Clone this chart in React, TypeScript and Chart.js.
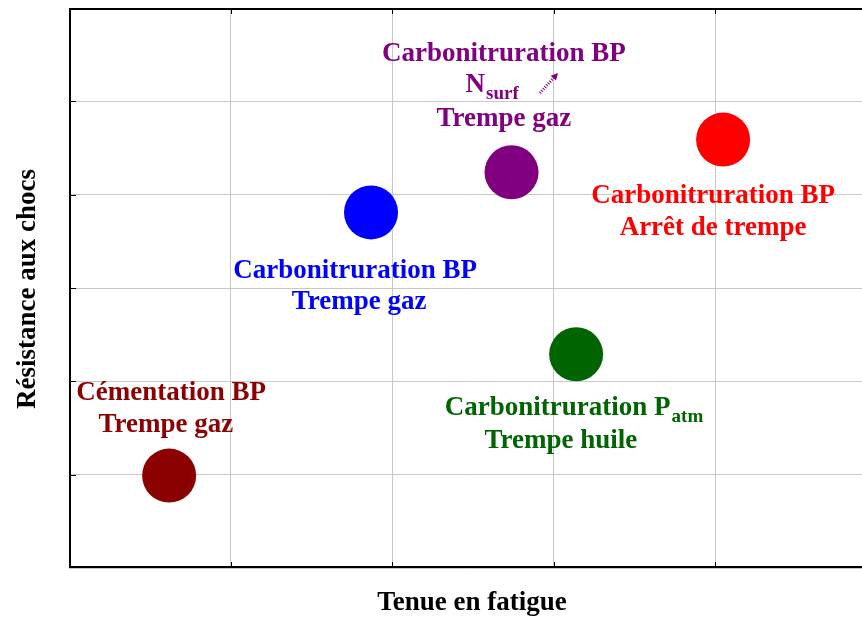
import React, { useEffect, useRef } from "react";
import { Chart, registerables } from "chart.js";

Chart.register(...registerables);

// ---- Data ----
const processes = [
  "Cémentation BP / Trempe gaz",
  "Carbonitruration BP / Trempe gaz",
  "Carbonitruration BP Nsurf / Trempe gaz",
  "Carbonitruration Patm / Trempe huile",
  "Carbonitruration BP / Arrêt de trempe",
];
const fatigue = [0.62, 1.87, 2.74, 3.14, 4.05];
const shock = [0.99, 3.81, 4.24, 2.29, 4.59];
const colors = ["#8b0000", "#0000ff", "#800080", "#006400", "#ff0000"];

const xTitle = "Tenue en fatigue";
const yTitle = "Résistance aux chocs";

// label lines: text, subscript, anchor x (centre), anchor y (baseline) in data units, color index
const labelTexts = [
  "Cémentation BP", "Trempe gaz",
  "Carbonitruration BP", "Trempe gaz",
  "Carbonitruration BP", "N", "Trempe gaz",
  "Carbonitruration P", "Trempe huile",
  "Carbonitruration BP", "Arrêt de trempe",
];
const labelSubs = ["", "", "", "", "", "surf", "", "atm", "", "", ""];
const labelX = [0.632, 0.60, 1.771, 1.796, 2.693, 2.62, 2.693, 3.127, 3.046, 3.988, 3.988];
const labelY = [1.800, 1.457, 3.107, 2.775, 5.432, 5.100, 4.735, 1.639, 1.286, 3.911, 3.568];
const labelColor = [0, 0, 1, 1, 2, 2, 2, 3, 3, 4, 4];

// small arrow near Nsurf (data coords)
const arrowFrom = [2.916, 5.089];
const arrowTo = [3.028, 5.304];

const FONT = "'Liberation Serif', 'Times New Roman', serif";

const overlay = {
  id: "overlay",
  afterDatasetsDraw(chart: any) {
    const ctx = chart.ctx;
    const xs = chart.scales.x;
    const ys = chart.scales.y;
    const area = chart.chartArea;
    ctx.save();
    // frame
    ctx.strokeStyle = "#000";
    ctx.lineWidth = 2;
    ctx.beginPath();
    ctx.moveTo(area.right + 2, area.top + 1);
    ctx.lineTo(area.left + 1, area.top + 1);
    ctx.lineTo(area.left + 1, area.bottom - 1);
    ctx.lineTo(area.right + 2, area.bottom - 1);
    ctx.stroke();
    // tick marks inward
    ctx.lineWidth = 1;
    ctx.beginPath();
    xs.ticks.forEach((t: any) => {
      const px = Math.round(xs.getPixelForValue(t.value)) + 0.5;
      if (px <= area.left + 3 || px >= area.right - 3) return;
      ctx.moveTo(px, area.bottom);
      ctx.lineTo(px, area.bottom - 6);
      ctx.moveTo(px, area.top);
      ctx.lineTo(px, area.top + 6);
    });
    ys.ticks.forEach((t: any) => {
      const py = Math.round(ys.getPixelForValue(t.value)) + 0.5;
      if (py <= area.top + 3 || py >= area.bottom - 3) return;
      ctx.moveTo(area.left, py);
      ctx.lineTo(area.left + 7, py);
    });
    ctx.stroke();

    // labels
    ctx.textBaseline = "alphabetic";
    ctx.textAlign = "left";
    labelTexts.forEach((txt, i) => {
      const sub = labelSubs[i];
      const color = colors[labelColor[i]];
      const mainFont = `bold 27px ${FONT}`;
      const subFont = `bold 19px ${FONT}`;
      ctx.font = mainFont;
      const w1 = ctx.measureText(txt).width;
      ctx.font = subFont;
      const w2 = sub ? ctx.measureText(sub).width + 1 : 0;
      const cx = xs.getPixelForValue(labelX[i]);
      const cy = ys.getPixelForValue(labelY[i]);
      const start = cx - (w1 + w2) / 2;
      ctx.fillStyle = color;
      ctx.font = mainFont;
      ctx.fillText(txt, start, cy);
      if (sub) {
        ctx.font = subFont;
        ctx.fillText(sub, start + w1 + 1, cy + 7);
      }
    });

    // arrow
    const ax1 = xs.getPixelForValue(arrowFrom[0]);
    const ay1 = ys.getPixelForValue(arrowFrom[1]);
    const ax2 = xs.getPixelForValue(arrowTo[0]);
    const ay2 = ys.getPixelForValue(arrowTo[1]);
    const ang = Math.atan2(ay2 - ay1, ax2 - ax1);
    ctx.strokeStyle = colors[2];
    ctx.fillStyle = colors[2];
    ctx.lineWidth = 3;
    ctx.setLineDash([1, 1.5]);
    ctx.beginPath();
    ctx.moveTo(ax1, ay1);
    ctx.lineTo(ax2 - 4 * Math.cos(ang), ay2 - 4 * Math.sin(ang));
    ctx.stroke();
    ctx.setLineDash([]);
    ctx.beginPath();
    ctx.moveTo(ax2, ay2);
    ctx.lineTo(ax2 - 7 * Math.cos(ang) + 3.5 * Math.sin(ang), ay2 - 7 * Math.sin(ang) - 3.5 * Math.cos(ang));
    ctx.lineTo(ax2 - 7 * Math.cos(ang) - 3.5 * Math.sin(ang), ay2 - 7 * Math.sin(ang) + 3.5 * Math.cos(ang));
    ctx.closePath();
    ctx.fill();

    // axis titles
    ctx.fillStyle = "#000";
    ctx.font = `bold 27px ${FONT}`;
    ctx.textAlign = "center";
    ctx.textBaseline = "alphabetic";
    ctx.fillText(xTitle, 472, 610);
    ctx.translate(35, 289);
    ctx.rotate(-Math.PI / 2);
    ctx.fillText(yTitle, 0, 0);
    ctx.restore();
  },
};

export default function App() {
  const ref = useRef<HTMLCanvasElement | null>(null);
  useEffect(() => {
    if (!ref.current) return;
    const chart = new Chart(ref.current, {
      type: "scatter",
      data: {
        datasets: [
          {
            label: "Procédés",
            data: fatigue.map((x, i) => ({ x, y: shock[i] })),
            backgroundColor: colors,
            borderWidth: 0,
            pointRadius: 27,
            pointHoverRadius: 27,
            clip: false as any,
          },
        ],
      },
      options: {
        animation: false,
        responsive: false,
        events: [],
        layout: { autoPadding: false, padding: { left: 69, top: 8, right: 0, bottom: 50 } },
        plugins: { legend: { display: false }, tooltip: { enabled: false } },
        scales: {
          x: {
            type: "linear",
            min: 0,
            max: 4.91,
            ticks: { display: false, stepSize: 1 },
            grid: { color: "#c8c8c8", lineWidth: 1, drawTicks: false },
            border: { display: false },
            afterFit: (s: any) => { s.height = 0; },
          },
          y: {
            type: "linear",
            min: 0,
            max: 6,
            ticks: { display: false, stepSize: 1 },
            grid: { color: "#c8c8c8", lineWidth: 1, drawTicks: false },
            border: { display: false },
            afterFit: (s: any) => { s.width = 0; },
          },
        },
      },
      plugins: [overlay],
    });
    return () => chart.destroy();
  }, []);
  return (
    <div style={{ position: "fixed", left: 0, top: 0, width: 862, height: 618, background: "#fff" }}>
      <canvas ref={ref} width={862} height={618} style={{ display: "block" }} />
    </div>
  );
}
